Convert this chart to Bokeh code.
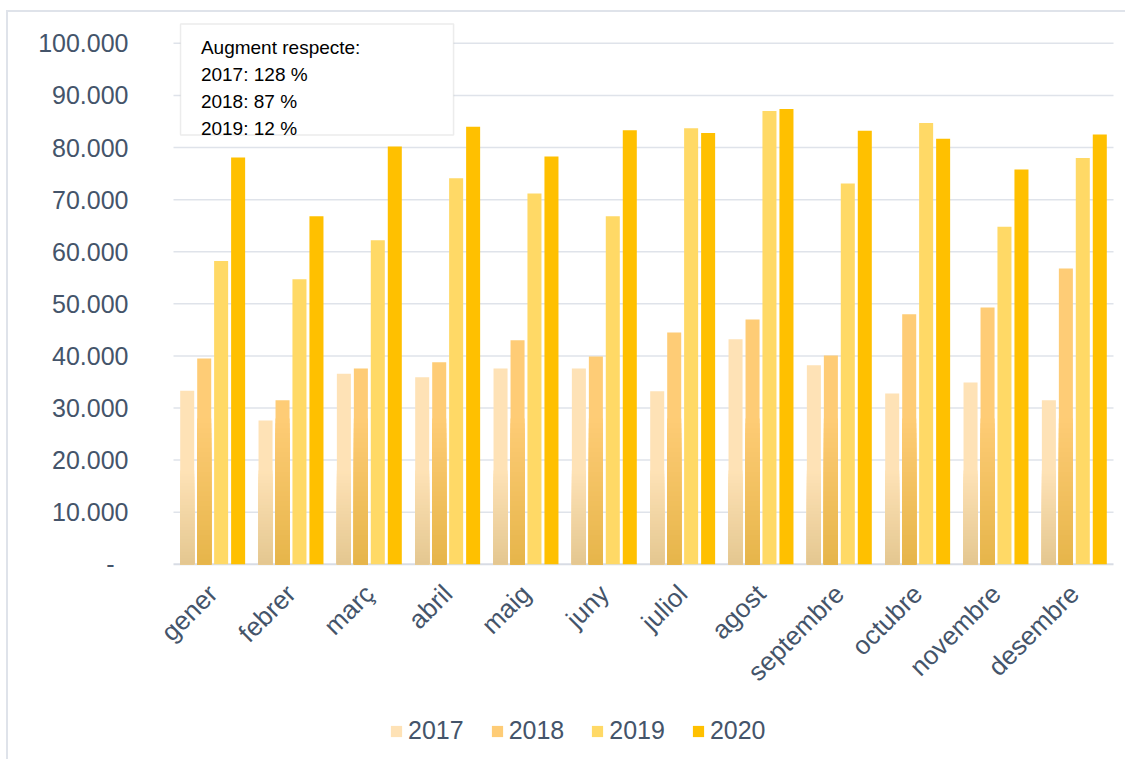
from bokeh.plotting import figure
from bokeh.models import (FactorRange, Range1d, FixedTicker, CustomJSTickFormatter,
                          Legend, LegendItem, Label, BoxAnnotation, ColumnDataSource)
from bokeh.core.properties import value
from bokeh.transform import dodge
from bokeh.embed import file_html
from bokeh.resources import INLINE
import math

months = ["gener", "febrer", "març", "abril", "maig", "juny", "juliol", "agost",
          "septembre", "octubre", "novembre", "desembre"]
years = ["2017", "2018", "2019", "2020"]
v2017 = [33300, 27600, 36600, 35900, 37600, 37600, 33200, 43200, 38200, 32800, 34900, 31500]
v2018 = [39500, 31500, 37600, 38800, 43000, 39900, 44500, 47000, 40100, 48000, 49300, 56800]
v2019 = [58200, 54700, 62200, 74100, 71200, 66800, 83700, 87000, 73100, 84700, 64800, 78000]
v2020 = [78100, 66800, 80200, 84000, 78300, 83300, 82800, 87400, 83200, 81700, 75800, 82500]
y_ticks = [0, 10000, 20000, 30000, 40000, 50000, 60000, 70000, 80000, 90000, 100000]
note_lines = ["Augment respecte:", "2017: 128 %", "2018: 87 %", "2019: 12 %"]

series = [v2017, v2018, v2019, v2020]
top_colors = ["#FEE2B6", "#FECC76", "#FFD966", "#FFC000"]
bottom_colors = ["#E4C790", "#E6B54A", None, None]
grad_heights = [18000, 28000, None, None]
offsets = [-0.325, -0.108, 0.108, 0.325]
bar_w = 0.179

def hex2rgb(h):
    h = h.lstrip("#")
    return tuple(int(h[i:i + 2], 16) for i in (0, 2, 4))

def mix(c1, c2, t):
    a, b = hex2rgb(c1), hex2rgb(c2)
    return "#%02x%02x%02x" % tuple(int(round(a[i] + (b[i] - a[i]) * t)) for i in range(3))

xr = FactorRange(*months, range_padding=0.15319, range_padding_units="absolute")
p = figure(x_range=xr, y_range=Range1d(-36700, 104000),
           frame_width=964, frame_height=733,
           min_border_left=153, min_border_right=0, min_border_top=10, min_border_bottom=4,
           output_backend="svg", toolbar_location=None)
p.styles = {"border-left": "2px solid #dfe3ea", "border-top": "2px solid #dfe3ea",
            "margin-left": "6px", "margin-top": "10px"}
p.outline_line_color = None

# horizontal grid lines across the category span (drawn behind bars)
p.xgrid.grid_line_color = None
p.ygrid.grid_line_color = None
grid_src = ColumnDataSource(dict(y=[t for t in y_ticks if t > 0]))
p.segment(x0=0, x1=len(months), y0="y", y1="y", source=grid_src,
          line_color="#dfe3ea", line_width=1.5)
p.segment(x0=[0], x1=[len(months)], y0=[y_ticks[0]], y1=[y_ticks[0]],
          line_color="#d8dce4", line_width=2)

src = ColumnDataSource(dict(month=months, v2017=v2017, v2018=v2018, v2019=v2019, v2020=v2020))

legend_items = []
for i, (vals, yr) in enumerate(zip(series, years)):
    x = dodge("month", offsets[i], range=p.x_range)
    r = p.vbar(x=x, top="v" + yr, width=bar_w, source=src,
               fill_color=top_colors[i], line_color=None)
    legend_items.append(LegendItem(label=yr, renderers=[r]))
    if bottom_colors[i] is not None:
        g = grad_heights[i]
        n = 30
        for k in range(n):
            level = g * (n - k) / n
            t = (n - k - 0.5) / n
            col = mix(bottom_colors[i], top_colors[i], t)
            tops = [min(v, level) for v in vals]
            s2 = ColumnDataSource(dict(month=months, top=tops))
            p.vbar(x=x, top="top", width=bar_w, source=s2, fill_color=col, line_color=None)

# y axis
p.yaxis.ticker = FixedTicker(ticks=y_ticks)
p.yaxis.formatter = CustomJSTickFormatter(code="""
if (tick == 0) return '-\\u00a0\\u00a0';
return String(tick).replace(/\\B(?=(\\d{3})+(?!\\d))/g, '.');
""")
p.yaxis.axis_line_color = None
p.yaxis.major_tick_line_color = None
p.yaxis.minor_tick_line_color = None
p.yaxis.major_tick_out = 0
p.yaxis.minor_tick_out = 0
p.yaxis.major_label_standoff = 33
p.yaxis.major_label_text_font = "Liberation Sans"
p.yaxis.major_label_text_font_size = "25px"
p.yaxis.major_label_text_color = "#44546A"

# x axis labels drawn inside the frame as rotated text
p.xaxis.visible = False
lab_src = ColumnDataSource(dict(month=months, y=[-4800] * len(months)))
p.text(x="month", y="y", text="month", source=lab_src, angle=math.pi / 4,
       text_align="right", text_baseline="middle",
       text_font=value("Liberation Sans"), text_font_size=value("26px"),
       text_color="#44546A")

# note box
box = BoxAnnotation(left=0.09, right=3.575, bottom=82400, top=103700,
                    fill_color="white", fill_alpha=1.0, line_color="#BFBFBF", line_width=1.5)
p.add_layout(box)
note = Label(x=0.35, y=101300, text="\n".join(note_lines), text_baseline="top",
             text_font="Liberation Sans", text_font_size="19px", text_color="#000000",
             text_line_height=1.3)
p.add_layout(note)

legend = Legend(items=legend_items, orientation="horizontal", location=(228, 10),
                label_text_font="Liberation Sans", label_text_font_size="25px",
                label_text_color="#44546A", glyph_width=14, glyph_height=14,
                label_standoff=5, spacing=26, padding=3, margin=0, border_line_color=None,
                background_fill_alpha=0)
p.add_layout(legend)

open("out.html", "w").write(file_html(p, INLINE))
